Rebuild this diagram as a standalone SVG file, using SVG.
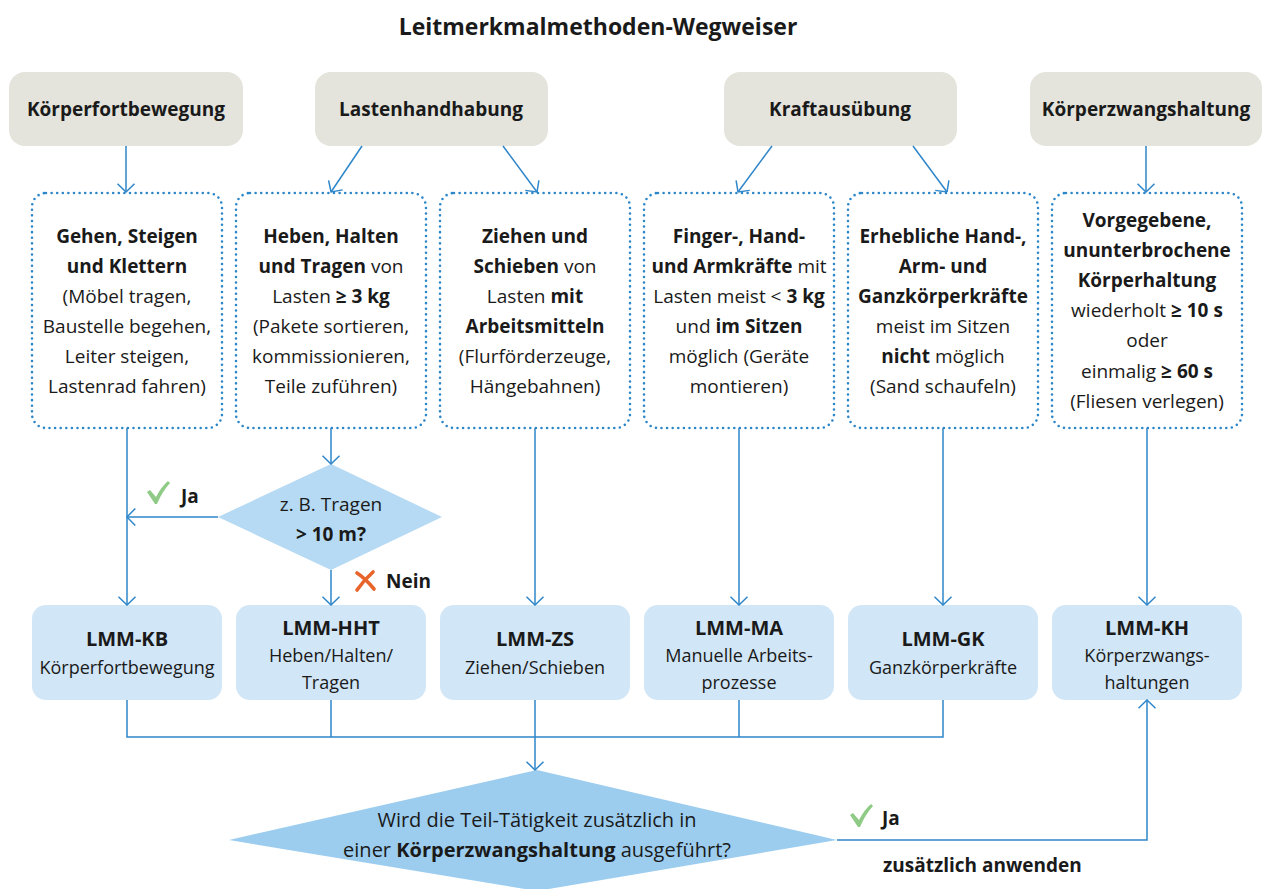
<svg xmlns="http://www.w3.org/2000/svg" width="1269" height="889" viewBox="0 0 1269 889">
<style>
text{font-family:"Open Sans","Noto Sans","Liberation Sans",sans-serif;fill:#1a1a1a;font-size:19px;text-anchor:middle}
.b{font-weight:bold}
.title{font-size:23px;font-weight:bold}
.head{fill:#e4e4dc}
.dot{fill:#fff;stroke:#2c86c8;stroke-width:2.6;stroke-dasharray:0 5.6;stroke-linecap:round}
.lmm{fill:#d1e6f6}
.lt{font-size:20px;font-weight:bold}
.ls{font-size:18px}
.conn path{fill:none;stroke:#2f86c9;stroke-width:1.5}
.arr{marker-end:url(#ah)}
.lab{text-anchor:start}
.q2t{font-size:20px}
</style>
<defs>
<marker id="ah" viewBox="0 0 10 20" refX="9.3" refY="10" markerWidth="10" markerHeight="20" markerUnits="userSpaceOnUse" orient="auto">
<path d="M1,1.5 L9.3,10 L1,18.5" fill="none" stroke="#2f86c9" stroke-width="1.5"/>
</marker>
</defs>
<rect width="1269" height="889" fill="#fff"/>
<text class="title" x="598" y="35">Leitmerkmalmethoden-Wegweiser</text>

<g id="h1"><rect class="head" x="9" y="72" width="234" height="74" rx="16"/><text class="b" x="126" y="116">Körperfortbewegung</text></g>
<g id="h2"><rect class="head" x="315" y="72" width="233" height="74" rx="16"/><text class="b" x="431" y="116">Lastenhandhabung</text></g>
<g id="h3"><rect class="head" x="724" y="72" width="233" height="74" rx="16"/><text class="b" x="840" y="116">Kraftausübung</text></g>
<g id="h4"><rect class="head" x="1030" y="72" width="232" height="74" rx="16"/><text class="b" x="1146" y="116">Körperzwangshaltung</text></g>

<g id="d1"><rect class="dot" x="32" y="193" width="190" height="235" rx="14"/>
<text x="127" y="243" class="b">Gehen, Steigen</text>
<text x="127" y="273" class="b">und Klettern</text>
<text x="127" y="303">(Möbel tragen,</text>
<text x="127" y="333">Baustelle begehen,</text>
<text x="127" y="363">Leiter steigen,</text>
<text x="127" y="393">Lastenrad fahren)</text></g>

<g id="d2"><rect class="dot" x="236" y="193" width="190" height="235" rx="14"/>
<text x="331" y="243" class="b">Heben, Halten</text>
<text x="331" y="273"><tspan class="b">und Tragen</tspan> von</text>
<text x="331" y="303">Lasten <tspan class="b">≥ 3 kg</tspan></text>
<text x="331" y="333">(Pakete sortieren,</text>
<text x="331" y="363">kommissionieren,</text>
<text x="331" y="393">Teile zuführen)</text></g>

<g id="d3"><rect class="dot" x="440" y="193" width="190" height="235" rx="14"/>
<text x="535" y="243" class="b">Ziehen und</text>
<text x="535" y="273"><tspan class="b">Schieben</tspan> von</text>
<text x="535" y="303">Lasten <tspan class="b">mit</tspan></text>
<text x="535" y="333" class="b">Arbeitsmitteln</text>
<text x="535" y="363">(Flurförderzeuge,</text>
<text x="535" y="393">Hängebahnen)</text></g>

<g id="d4"><rect class="dot" x="644" y="193" width="190" height="235" rx="14"/>
<text x="739" y="243" class="b">Finger-, Hand-</text>
<text x="739" y="273"><tspan class="b">und Armkräfte</tspan> mit</text>
<text x="739" y="303">Lasten meist &lt; <tspan class="b">3 kg</tspan></text>
<text x="739" y="333">und <tspan class="b">im Sitzen</tspan></text>
<text x="739" y="363">möglich (Geräte</text>
<text x="739" y="393">montieren)</text></g>

<g id="d5"><rect class="dot" x="848" y="193" width="190" height="235" rx="14"/>
<text x="943" y="243" class="b">Erhebliche Hand-,</text>
<text x="943" y="273" class="b">Arm- und</text>
<text x="943" y="303" class="b">Ganzkörperkräfte</text>
<text x="943" y="333">meist im Sitzen</text>
<text x="943" y="363"><tspan class="b">nicht</tspan> möglich</text>
<text x="943" y="393">(Sand schaufeln)</text></g>

<g id="d6"><rect class="dot" x="1052" y="193" width="190" height="235" rx="14"/>
<text x="1147" y="227" class="b">Vorgegebene,</text>
<text x="1147" y="257" class="b">ununterbrochene</text>
<text x="1147" y="287" class="b">Körperhaltung</text>
<text x="1147" y="317">wiederholt <tspan class="b">≥ 10 s</tspan></text>
<text x="1147" y="347">oder</text>
<text x="1147" y="378">einmalig <tspan class="b">≥ 60 s</tspan></text>
<text x="1147" y="408">(Fliesen verlegen)</text></g>

<g id="q1"><polygon points="331,464 442,517 331,570 218,517" fill="#b6daf3"/>
<text x="331" y="511">z. B. Tragen</text>
<text x="331" y="541" class="b">&gt; 10 m?</text></g>

<g id="m1"><rect class="lmm" x="32" y="605" width="190" height="95" rx="14"/>
<text x="127" y="646" class="lt">LMM-KB</text>
<text x="127" y="674" class="ls">Körperfortbewegung</text></g>
<g id="m2"><rect class="lmm" x="236" y="605" width="190" height="95" rx="14"/>
<text x="331" y="635" class="lt">LMM-HHT</text>
<text x="331" y="662" class="ls">Heben/Halten/</text>
<text x="331" y="689" class="ls">Tragen</text></g>
<g id="m3"><rect class="lmm" x="440" y="605" width="190" height="95" rx="14"/>
<text x="535" y="646" class="lt">LMM-ZS</text>
<text x="535" y="674" class="ls">Ziehen/Schieben</text></g>
<g id="m4"><rect class="lmm" x="644" y="605" width="190" height="95" rx="14"/>
<text x="739" y="635" class="lt">LMM-MA</text>
<text x="739" y="662" class="ls">Manuelle Arbeits-</text>
<text x="739" y="689" class="ls">prozesse</text></g>
<g id="m5"><rect class="lmm" x="848" y="605" width="190" height="95" rx="14"/>
<text x="943" y="646" class="lt">LMM-GK</text>
<text x="943" y="674" class="ls">Ganzkörperkräfte</text></g>
<g id="m6"><rect class="lmm" x="1052" y="605" width="190" height="95" rx="14"/>
<text x="1147" y="635" class="lt">LMM-KH</text>
<text x="1147" y="662" class="ls">Körperzwangs-</text>
<text x="1147" y="689" class="ls">haltungen</text></g>

<g id="q2"><polygon points="537,770 837,840 537,891 229,840" fill="#9ccdef"/>
<text x="537" y="827" class="q2t">Wird die Teil-Tätigkeit zusätzlich in</text>
<text x="537" y="857" class="q2t">einer <tspan class="b">Körperzwangshaltung</tspan> ausgeführt?</text></g>

<g class="conn">
<path class="arr" d="M126,146 V192"/>
<path class="arr" d="M362,146 L331,192"/>
<path class="arr" d="M503,146 L537,192"/>
<path class="arr" d="M772,146 L738,192"/>
<path class="arr" d="M913,146 L947,192"/>
<path class="arr" d="M1146,146 V192"/>
<path class="arr" d="M127,428 V605"/>
<path class="arr" d="M331,428 V464"/>
<path class="arr" d="M331,570 V605"/>
<path class="arr" d="M218,517 H127"/>
<path class="arr" d="M535,428 V605"/>
<path class="arr" d="M739,428 V605"/>
<path class="arr" d="M943,428 V605"/>
<path class="arr" d="M1147,428 V605"/>
<path d="M127,700 V737 H943 V700 M331,700 V737 M739,700 V737"/>
<path class="arr" d="M535,700 V770"/>
<path class="arr" d="M837,840 H1147 V700"/>
</g>

<g id="labels">
<path d="M147,492 L150,490 L156,497 Q161,487 168,481 L170,483 Q162,492 157,504 L155,504 Z" fill="#8fcb86"/>
<text class="lab b" x="181" y="503">Ja</text>
<path d="M357,573 Q365,578 374,589 M373,572 Q364,580 357,590" stroke="#e8642a" stroke-width="3.6" fill="none" stroke-linecap="round"/>
<text class="lab b" x="386" y="588">Nein</text>
<path d="M850,815 L853,813 L859,820 Q864,810 871,804 L873,806 Q865,815 860,827 L858,827 Z" fill="#8fcb86"/>
<text class="lab b" x="882" y="825">Ja</text>
<text class="lab b" x="883" y="872">zusätzlich anwenden</text>
</g>
</svg>
